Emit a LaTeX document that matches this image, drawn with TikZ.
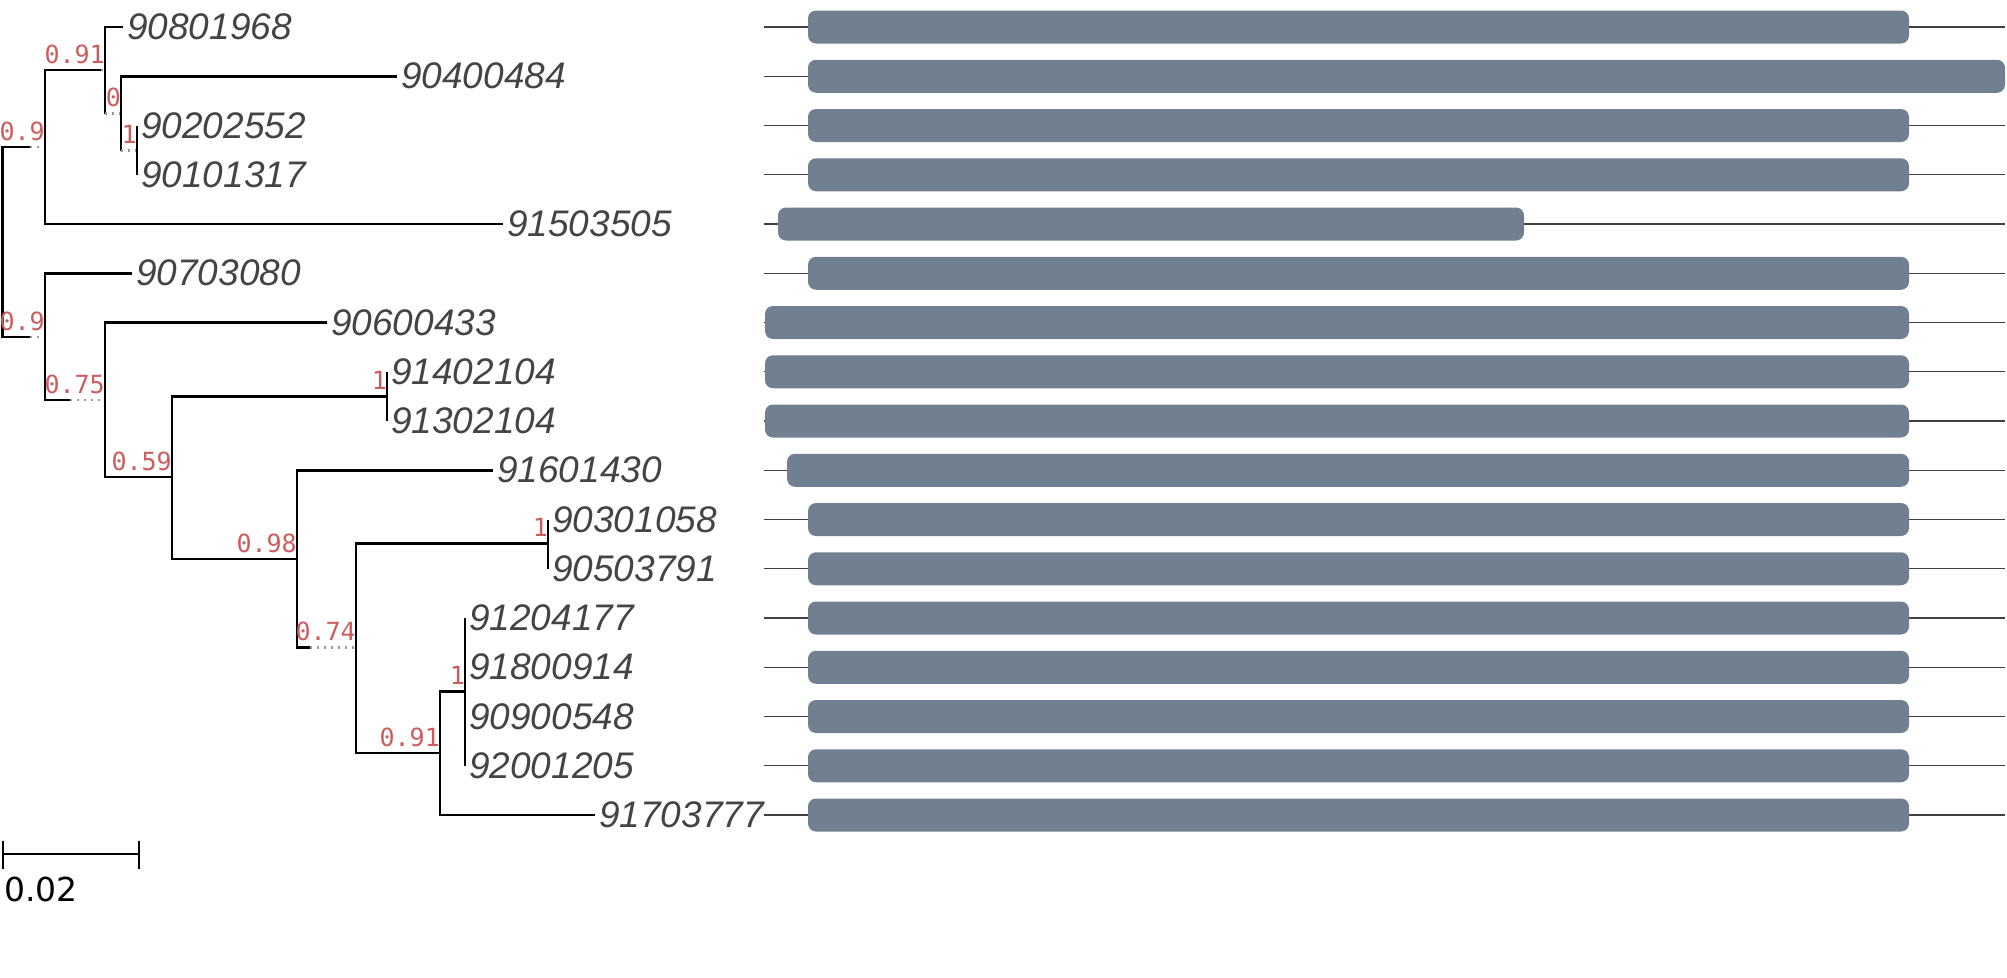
\documentclass[tikz,border=0pt]{standalone}
\usepackage{fontspec}
\newfontfamily\leafFont{Liberation Sans}
\newfontfamily\supFont{DejaVu Sans Mono}
\newfontfamily\sbarFont{DejaVu Sans}
\definecolor{supred}{RGB}{205,92,92}
\definecolor{leafgray}{RGB}{68,68,68}
\definecolor{slate}{RGB}{112,128,144}
\begin{document}
\begin{tikzpicture}[x=1pt,y=-1pt]
\tikzset{
 branch/.style={draw=black, line width=2.7pt},
 ext/.style={draw=gray!80, line width=2.2pt, dash pattern=on 2pt off 5pt},
 leaf/.style={anchor=west, inner sep=0pt, xshift=4pt, text=leafgray, font=\leafFont\itshape\fontsize{37}{37}\selectfont},
 sup/.style={anchor=base east, inner sep=0pt, yshift=7pt, text=supred, font=\supFont\fontsize{25}{25}\selectfont},
 track/.style={draw=black!75, line width=1.4pt},
 bar/.style={fill=slate, rounded corners=8pt},
 scalebar/.style={draw=black, line width=2pt},
}
\useasboundingbox (0,0) rectangle (2007,977);

% tracks and bars
\foreach \y/\l/\r in {27/808/1909, 76.25/808/2005, 125.5/808/1909, 174.75/808/1909,
  224/778/1524, 273.25/808/1909, 322.5/765/1909, 371.75/765/1909, 421/765/1909,
  470.25/787/1909, 519.5/808/1909, 568.75/808/1909, 618/808/1909, 667.25/808/1909,
  716.5/808/1909, 765.75/808/1909, 815/808/1909} {
  \draw[track] (764,\y) -- (2005,\y);
  \fill[bar] (\l,\y-16.5) rectangle (\r,\y+16.5);
}

% leaf ends
\coordinate (L1) at (123,27);
\coordinate (L2) at (397,76.25);
\coordinate (L3) at (137,125.5);
\coordinate (L4) at (137,174.75);
\coordinate (L5) at (503,224);
\coordinate (L6) at (132,273.25);
\coordinate (L7) at (327,322.5);
\coordinate (L8) at (387,371.75);
\coordinate (L9) at (387,421);
\coordinate (L10) at (493,470.25);
\coordinate (L11) at (548,519.5);
\coordinate (L12) at (548,568.75);
\coordinate (L13) at (465,618);
\coordinate (L14) at (465,667.25);
\coordinate (L15) at (465,716.5);
\coordinate (L16) at (465,765.75);
\coordinate (L17) at (595,815);

% internal nodes
\coordinate (R) at (2.5,242);
\coordinate (A) at (45,147);
\coordinate (B) at (105,70);
\coordinate (C) at (121,113.5);
\coordinate (D) at (137,150.5);
\coordinate (E) at (45,337);
\coordinate (F) at (105,400);
\coordinate (G) at (172,477);
\coordinate (H) at (387,396.5);
\coordinate (I) at (297,559);
\coordinate (J) at (356,647.5);
\coordinate (K) at (548,543.5);
\coordinate (L) at (440,753);
\coordinate (M) at (465,691.5);

% split points (solid part ends, dotted extension starts)
\coordinate (Asp) at (30,147);
\coordinate (Esp) at (30,337);
\coordinate (Bsp) at (101,70);
\coordinate (Fsp) at (70,400);
\coordinate (Jsp) at (310,647.5);

% branches
\draw[branch] (Asp) -| (R) |- (Esp);
\draw[ext] (Asp) -- (A);
\draw[ext] (Esp) -- (E);
\draw[branch] (Bsp) -| (A) |- (L5);
\draw[ext] (Bsp) -- (B);
\draw[branch] (L1) -| (B) |- (B |- C);
\draw[ext] (B |- C) -- (C);
\draw[branch] (L2) -| (C) |- (C |- D);
\draw[ext] (C |- D) -- (D);
\draw[branch] (L3) -| (D) |- (L4);
\draw[branch] (L6) -| (E) |- (Fsp);
\draw[ext] (Fsp) -- (F);
\draw[branch] (L7) -| (F) |- (G);
\draw[branch] (H) -| (G) |- (I);
\draw[branch] (L8) -| (H) |- (L9);
\draw[branch] (L10) -| (I) |- (Jsp);
\draw[ext] (Jsp) -- (J);
\draw[branch] (K) -| (J) |- (L);
\draw[branch] (L11) -| (K) |- (L12);
\draw[branch] (M) -| (L) |- (L17);
\draw[branch] (L13) -| (M) |- (L16);

% support values
\node[sup] (sA) at (A) {0.9};
\node[sup] (sE) at (E) {0.9};
\node[sup] (sB) at (B) {0.91};
\node[sup] (sC) at (C) {0};
\node[sup] (sD) at (D) {1};
\node[sup] (sF) at (F) {0.75};
\node[sup] (sG) at (G) {0.59};
\node[sup] (sH) at (H) {1};
\node[sup] (sI) at (I) {0.98};
\node[sup] (sJ) at (J) {0.74};
\node[sup] (sK) at (K) {1};
\node[sup] (sL) at (L) {0.91};
\node[sup] (sM) at (M) {1};

% leaf labels
\node[leaf] (t1) at (L1) {90801968};
\node[leaf] (t2) at (L2) {90400484};
\node[leaf] (t3) at (L3) {90202552};
\node[leaf] (t4) at (L4) {90101317};
\node[leaf] (t5) at (L5) {91503505};
\node[leaf] (t6) at (L6) {90703080};
\node[leaf] (t7) at (L7) {90600433};
\node[leaf] (t8) at (L8) {91402104};
\node[leaf] (t9) at (L9) {91302104};
\node[leaf] (t10) at (L10) {91601430};
\node[leaf] (t11) at (L11) {90301058};
\node[leaf] (t12) at (L12) {90503791};
\node[leaf] (t13) at (L13) {91204177};
\node[leaf] (t14) at (L14) {91800914};
\node[leaf] (t15) at (L15) {90900548};
\node[leaf] (t16) at (L16) {92001205};
\node[leaf] (t17) at (L17) {91703777};

% scale bar
\coordinate (sb1) at (2.7,854);
\coordinate (sb2) at (139,854);
\draw[scalebar] (sb1) -- (sb2);
\draw[scalebar] ([yshift=13pt]sb1) -- ([yshift=-15pt]sb1);
\draw[scalebar] ([yshift=13pt]sb2) -- ([yshift=-15pt]sb2);
\node[anchor=north west, inner sep=0pt, font=\sbarFont\fontsize{33}{33}\selectfont] (sbl) at (4,877) {0.02};
\end{tikzpicture}
\end{document}
